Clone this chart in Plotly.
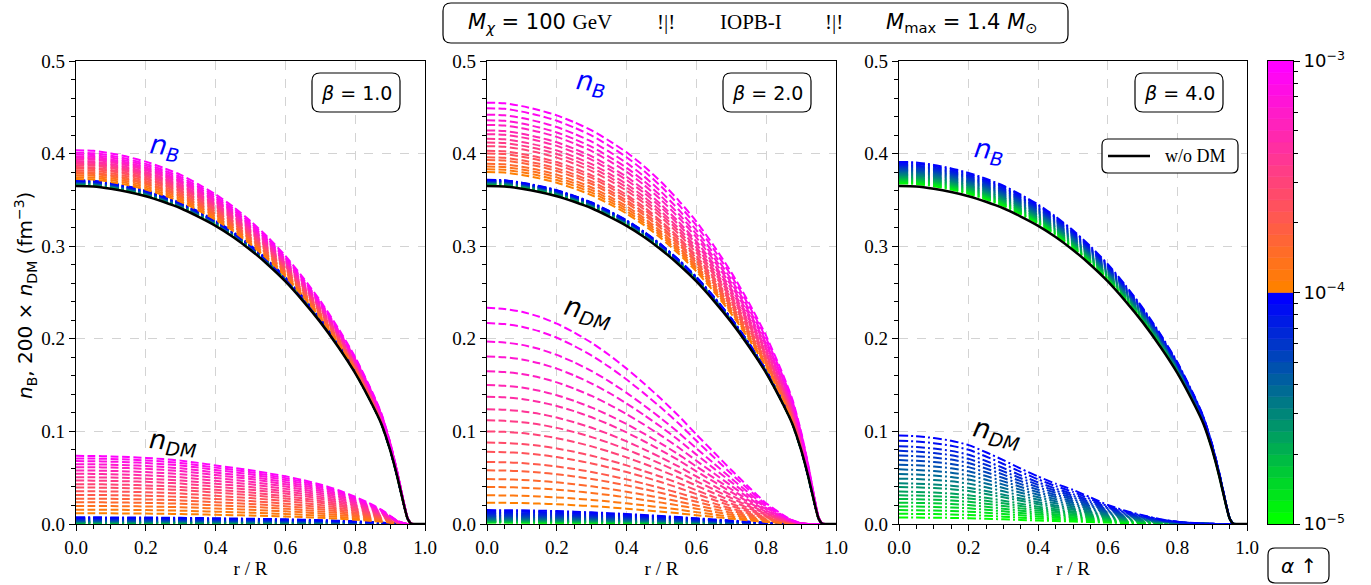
import plotly.graph_objects as go

W, H = 1371, 585

# ---------------- data ----------------
# radial grid (r / R) at which the profiles were read
r_grid = [0.0, 0.05, 0.10, 0.15, 0.20, 0.25, 0.30, 0.35, 0.40, 0.45, 0.50, 0.55, 0.60,
          0.65, 0.70, 0.75, 0.80, 0.85, 0.875, 0.90, 0.92, 0.94, 0.95, 0.96, 0.97, 1.0]

# baryon density without dark matter (black curve)
nb_without_dm = [0.365, 0.3645, 0.362, 0.3585, 0.354, 0.348, 0.341, 0.332, 0.322, 0.310,
                 0.296, 0.280, 0.262, 0.241, 0.218, 0.192, 0.163, 0.128, 0.108, 0.080,
                 0.052, 0.020, 0.006, 0.0005, 0.0, 0.0]

# normalised dark-matter profile shapes (value / central value) per panel
dm_shape_beta1 = [1.0, 0.998, 0.992, 0.983, 0.970, 0.952, 0.930, 0.897, 0.860, 0.826,
                  0.790, 0.745, 0.700, 0.645, 0.580, 0.500, 0.400, 0.280, 0.210, 0.120,
                  0.050, 0.010, 0.0, 0.0, 0.0, 0.0]
dm_shape_beta2 = [1.0, 0.995, 0.982, 0.959, 0.927, 0.886, 0.838, 0.782, 0.719, 0.650,
                  0.577, 0.499, 0.414, 0.332, 0.250, 0.171, 0.096, 0.040, 0.018, 0.004,
                  0.0, 0.0, 0.0, 0.0, 0.0, 0.0]
dm_shape_beta4 = [1.0, 0.990, 0.970, 0.940, 0.890, 0.810, 0.720, 0.625, 0.535, 0.455,
                  0.385, 0.300, 0.215, 0.150, 0.100, 0.055, 0.026, 0.010, 0.005, 0.002,
                  0.0, 0.0, 0.0, 0.0, 0.0, 0.0]

# central values of each curve (low alpha: 1e-5..1e-4, high alpha: 1e-4..1e-3)
b1_low_nb = [0.3662, 0.3664, 0.3666, 0.3668, 0.3670, 0.3672, 0.3675, 0.3677, 0.3680, 0.3682,
             0.3685, 0.3688, 0.3690, 0.3693, 0.3696, 0.3699, 0.3702, 0.3705, 0.3708, 0.3712]
b1_low_dm = [0.0008, 0.0009, 0.0010, 0.0012, 0.0013, 0.0015, 0.0017, 0.0019, 0.0022, 0.0025,
             0.0028, 0.0032, 0.0036, 0.0040, 0.0045, 0.0050, 0.0055, 0.0061, 0.0066, 0.0072]
b1_high_nb = [0.3725, 0.3745, 0.3765, 0.3785, 0.3800, 0.3820, 0.3840, 0.3855, 0.3875, 0.3890,
              0.3905, 0.3920, 0.3940, 0.3955, 0.3970, 0.3990, 0.4010, 0.4035]
b1_high_dm = [0.0116, 0.0155, 0.0195, 0.0235, 0.0274, 0.0314, 0.0354, 0.0394, 0.0430, 0.0469,
              0.0505, 0.0542, 0.0578, 0.0614, 0.0646, 0.0679, 0.0708, 0.0736]

b2_low_nb = [0.3663, 0.3665, 0.3668, 0.3670, 0.3673, 0.3675, 0.3678, 0.3681, 0.3684, 0.3687,
             0.3690, 0.3693, 0.3696, 0.3699, 0.3702, 0.3705, 0.3708, 0.3711, 0.3714, 0.3717]
b2_low_dm = [0.0015, 0.0018, 0.0021, 0.0024, 0.0027, 0.0031, 0.0035, 0.0040, 0.0045, 0.0050,
             0.0056, 0.0063, 0.0070, 0.0078, 0.0087, 0.0096, 0.0107, 0.0119, 0.0134, 0.0150]
b2_high_nb = [0.3800, 0.3830, 0.3860, 0.3890, 0.3930, 0.3960, 0.4000, 0.4030, 0.4080, 0.4120,
              0.4160, 0.4210, 0.4250, 0.4310, 0.4360, 0.4420, 0.4490, 0.4550]
b2_high_dm = [0.0230, 0.0310, 0.0400, 0.0485, 0.0580, 0.0670, 0.0780, 0.0880, 0.1000, 0.1120,
              0.1240, 0.1375, 0.1500, 0.1650, 0.1810, 0.1970, 0.2170, 0.2334]

b4_low_nb = [0.3678, 0.3688, 0.3699, 0.3709, 0.3720, 0.3730, 0.3741, 0.3751, 0.3764, 0.3774,
             0.3787, 0.3800, 0.3813, 0.3826, 0.3839, 0.3852, 0.3865, 0.3878, 0.3894, 0.3910]
b4_low_dm = [0.0070, 0.0110, 0.0150, 0.0190, 0.0230, 0.0270, 0.0310, 0.0350, 0.0400, 0.0440,
             0.0490, 0.0540, 0.0590, 0.0640, 0.0690, 0.0740, 0.0790, 0.0840, 0.0900, 0.0957]

beta_labels = ["1.0", "2.0", "4.0"]
cbar_tick_exponents = [-5, -4, -3]

# ---------------- styling ----------------
GREEN, BLUE = (0, 255, 0), (0, 0, 255)
ORANGE, MAGENTA = (255, 128, 0), (255, 0, 255)


def lerp(c0, c1, t):
    return "rgb(%d,%d,%d)" % tuple(round(a + (b - a) * t) for a, b in zip(c0, c1))


def px(x):
    return x / W


def py(y):
    return 1 - y / H


panel_x = [(76, 425), (487, 836), (899, 1247)]
Y_TOP, Y_BOT = 61, 524
ydom = [py(Y_BOT), py(Y_TOP)]

DASH = "8px,3.5px"
DASHDOT = "9px,3px,2px,3px"

panels = [
    dict(low=(b1_low_nb, b1_low_dm), high=(b1_high_nb, b1_high_dm), shape=dm_shape_beta1),
    dict(low=(b2_low_nb, b2_low_dm), high=(b2_high_nb, b2_high_dm), shape=dm_shape_beta2),
    dict(low=(b4_low_nb, b4_low_dm), high=None, shape=dm_shape_beta4),
]

fig = go.Figure()

for i, p in enumerate(panels):
    xa = "x" if i == 0 else "x%d" % (i + 1)
    ya = "y" if i == 0 else "y%d" % (i + 1)
    groups = [(p["low"], GREEN, BLUE, DASHDOT)]
    if p["high"] is not None:
        groups.append((p["high"], ORANGE, MAGENTA, DASH))
    for (nbs, dms), c0, c1, dash in groups:
        n = len(nbs)
        for k in range(n):
            col = lerp(c0, c1, k / (n - 1))
            nb_curve = [nbs[k] / nb_without_dm[0] * v for v in nb_without_dm]
            dm_curve = [dms[k] * v for v in p["shape"]]
            for yy in (nb_curve, dm_curve):
                fig.add_trace(go.Scatter(
                    x=r_grid, y=yy, mode="lines", xaxis=xa, yaxis=ya,
                    line=dict(color=col, width=2, dash=dash, shape="spline", smoothing=0.6),
                    showlegend=False, hoverinfo="skip"))
    fig.add_trace(go.Scatter(
        x=r_grid, y=nb_without_dm, mode="lines", xaxis=xa, yaxis=ya,
        line=dict(color="black", width=2.5, shape="spline", smoothing=0.6),
        name="w/o DM", showlegend=False, hoverinfo="skip"))

# colour bar drawn on its own log axis
nb_bands = 20
for half, (c0, c1) in enumerate([(GREEN, BLUE), (ORANGE, MAGENTA)]):
    for k in range(nb_bands):
        e0 = cbar_tick_exponents[half] + k / nb_bands
        e1 = cbar_tick_exponents[half] + (k + 1) / nb_bands
        lo, hi = 10 ** e0, 10 ** e1
        col = lerp(c0, c1, k / (nb_bands - 1))
        fig.add_trace(go.Scatter(
            x=[0, 1, 1, 0, 0], y=[lo, lo, hi, hi, lo], mode="lines", fill="toself",
            fillcolor=col, line=dict(color=col, width=0.6), xaxis="x4", yaxis="y4",
            showlegend=False, hoverinfo="skip"))

serif = "Liberation Serif"
sans = "DejaVu Sans"

common = dict(showline=True, linecolor="black", linewidth=1.2, mirror=True,
              ticks="outside", ticklen=6, tickwidth=1.2, tickcolor="black",
              tickfont=dict(family=serif, size=19, color="black"),
              showgrid=True, gridcolor="#d3d3d3", gridwidth=1, griddash="dash",
              zeroline=False, automargin=False)

layout = dict(width=W, height=H, margin=dict(l=0, r=0, t=0, b=0, pad=0, autoexpand=False),
              autosize=False,
              paper_bgcolor="white", plot_bgcolor="white", showlegend=False)

for i, (x0, x1) in enumerate(panel_x):
    sfx = "" if i == 0 else str(i + 1)
    layout["xaxis" + sfx] = dict(
        common, domain=[px(x0), px(x1)], range=[0, 1], dtick=0.2, tick0=0, tickformat=".1f",
        anchor="y" + sfx,
        minor=dict(dtick=0.05, tick0=0, ticks="outside", ticklen=3.5, tickcolor="black",
                   showgrid=False),
        title=dict(text="r / R", font=dict(family=serif, size=19, color="black"), standoff=4))
    layout["yaxis" + sfx] = dict(
        common, domain=ydom, range=[0, 0.5], dtick=0.1, tick0=0, tickformat=".1f",
        anchor="x" + sfx,
        minor=dict(dtick=0.02, tick0=0, ticks="outside", ticklen=3.5, tickcolor="black",
                   showgrid=False))

minor_vals = [m * 10 ** e for e in (-5, -4) for m in range(2, 10)]
layout["xaxis4"] = dict(domain=[px(1268), px(1293)], range=[0, 1], showline=True, mirror=True,
                        linecolor="black", linewidth=1, showticklabels=False, ticks="",
                        showgrid=False, zeroline=False, anchor="y4", automargin=False)
layout["yaxis4"] = dict(domain=ydom, type="log", range=[-5, -3], side="right", anchor="x4",
                        showline=True, mirror=True, linecolor="black", linewidth=1,
                        tickmode="array", tickvals=[10 ** e for e in cbar_tick_exponents],
                        ticktext=["10<sup>\u2212%d</sup>" % (-e) for e in cbar_tick_exponents],
                        ticks="outside", ticklen=6, tickcolor="black",
                        tickfont=dict(family=sans, size=18, color="black"),
                        showgrid=False, zeroline=False, automargin=False,
                        minor=dict(tickmode="array", tickvals=minor_vals, ticks="outside",
                                   ticklen=3.5, tickcolor="black", showgrid=False))


def rrect(x0, y0, x1, y1, r=7, lw=1.2):
    X0, X1 = px(x0), px(x1)
    Yb, Yt = py(y1), py(y0)
    rx, ry = r / W, r / H
    path = (f"M {X0+rx},{Yb} L {X1-rx},{Yb} Q {X1},{Yb} {X1},{Yb+ry} "
            f"L {X1},{Yt-ry} Q {X1},{Yt} {X1-rx},{Yt} L {X0+rx},{Yt} "
            f"Q {X0},{Yt} {X0},{Yt-ry} L {X0},{Yb+ry} Q {X0},{Yb} {X0+rx},{Yb} Z")
    return dict(type="path", path=path, xref="paper", yref="paper",
                line=dict(color="black", width=lw), fillcolor="white", layer="above")


shapes = []
annotations = []


def ann(x, y, text, size, family=sans, color="black", angle=0, xanchor="center"):
    annotations.append(dict(x=px(x), y=py(y), xref="paper", yref="paper", text=text,
                            showarrow=False, xanchor=xanchor, yanchor="middle",
                            textangle=angle,
                            font=dict(family=family, size=size, color=color)))


# title box with its five parts
shapes.append(rrect(443, 3, 1068, 43, r=8))
ann(466, 23, "<i>M</i><sub><i>\u03c7</i></sub> = 100 "
    "<span style='font-family:Liberation Serif'>GeV</span>", 21, xanchor="left")
ann(666, 22, "!|!", 21, family=serif)
ann(751, 22, "IOPB-I", 21, family=serif)
ann(834, 22, "!|!", 21, family=serif)
ann(884, 23, "<i>M</i><sub>max</sub> = 1.4 <i>M</i><sub>\u2299</sub>", 21, xanchor="left")

# beta boxes
for i, (x0, x1) in enumerate(panel_x):
    off = x0 - 76
    shapes.append(rrect(312 + off, 73, 400 + off, 112, r=8))
    ann(356 + off, 93, "<i>\u03b2</i> = " + beta_labels[i], 19)

# curve labels
nb_pos = [(165, 147, 8), (591, 84, 8), (989, 152, 8)]
dm_pos = [(173, 442, 5), (588, 312, 14), (997, 433, 12)]
for (x, y, a) in nb_pos:
    ann(x, y, "<i>n</i><sub><i>B</i></sub>", 27, color="blue", angle=a)
for (x, y, a) in dm_pos:
    ann(x, y, "<i>n</i><sub><i>DM</i></sub>", 27, color="black", angle=a)

# legend (panel 3)
shapes.append(rrect(1102, 139, 1238, 173, r=6))
shapes.append(dict(type="line", xref="paper", yref="paper", x0=px(1108), x1=px(1150),
                   y0=py(156), y1=py(156), line=dict(color="black", width=2.5)))
ann(1163, 156, "w/o DM", 18, family=serif, xanchor="left")

# alpha box
shapes.append(rrect(1268, 548, 1329, 583, r=7))
ann(1298.5, 566, "<i>\u03b1</i> \u2191", 20)

# y-axis title
ann(25, 296, "<i>n</i><sub>B</sub>, 200 \u00d7 <i>n</i><sub>DM</sub> (fm<sup>\u22123</sup>)",
    20, angle=-90)

layout["shapes"] = shapes
layout["annotations"] = annotations
fig.update_layout(**layout)

fig.write_html("out.html")
